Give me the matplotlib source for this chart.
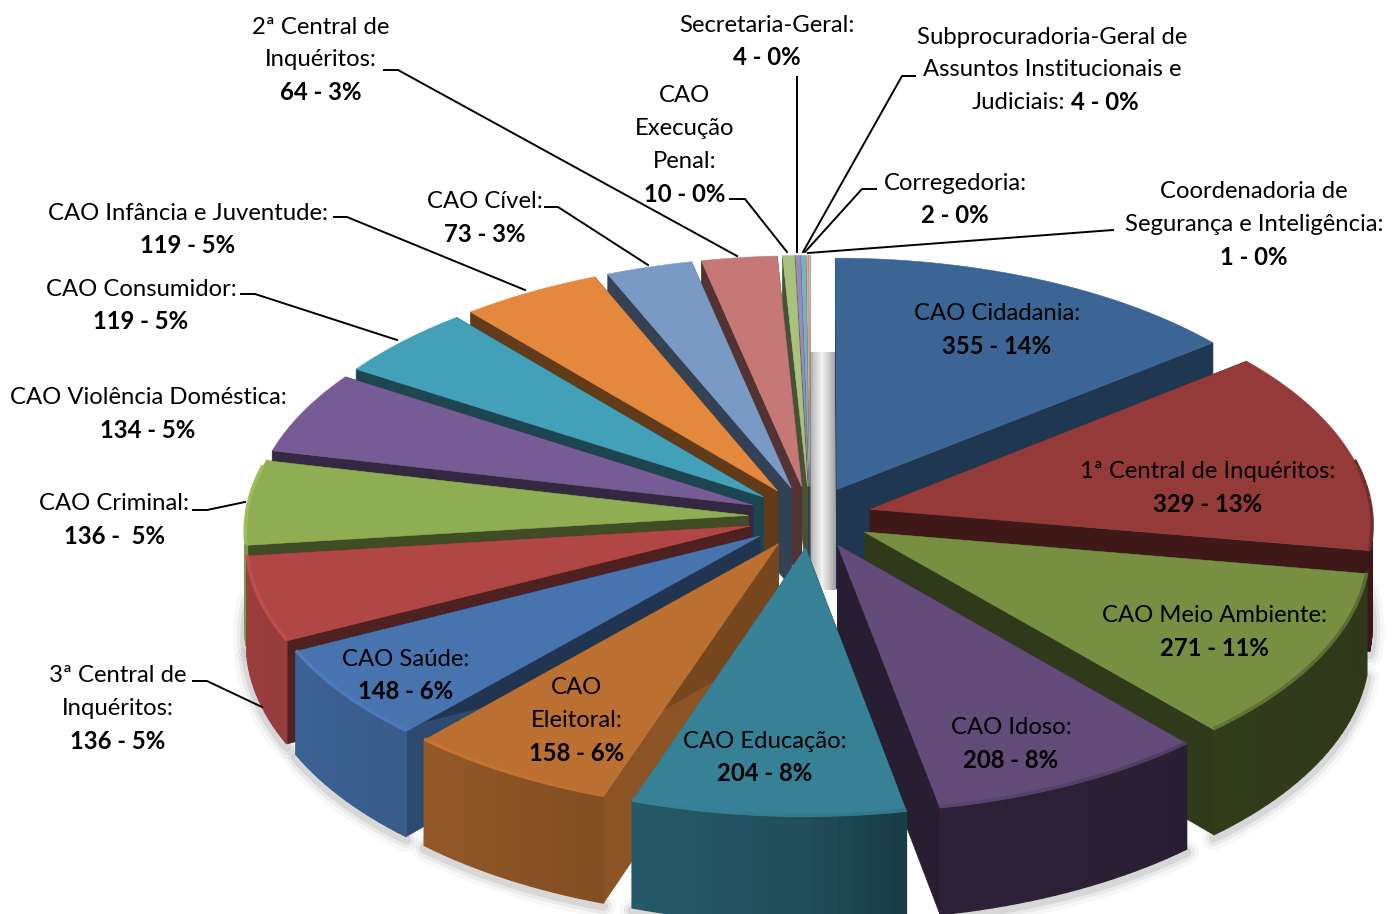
import matplotlib

matplotlib.use("Agg")
import matplotlib.pyplot as plt
import numpy as np

names = [
    "CAO Cidadania:", "1ª Central de Inquéritos:", "CAO Meio Ambiente:", "CAO Idoso:",
    "CAO Educação:", "CAO\nEleitoral:", "CAO Saúde:", "3ª Central de\nInquéritos:",
    "CAO Criminal:", "CAO Violência Doméstica:", "CAO Consumidor:",
    "CAO Infância e Juventude:", "CAO Cível:", "2ª Central de\nInquéritos:",
    "CAO\nExecução\nPenal:", "Secretaria-Geral:",
    "Subprocuradoria-Geral de\nAssuntos Institucionais e", "Corregedoria:",
    "Coordenadoria de\nSegurança e Inteligência:",
]
counts = [355, 329, 271, 208, 204, 158, 148, 136, 136, 134, 119, 119, 73, 64, 10, 4, 4, 2, 1]
percents = [14, 13, 11, 8, 8, 6, 6, 5, 5, 5, 5, 5, 3, 3, 0, 0, 0, 0, 0]
colors = [
    "#3a6594", "#943b3a", "#768f41", "#624a79", "#368196", "#bb7031",
    "#4773ae", "#b04745", "#8fad52", "#775b95", "#43a0b9", "#e3883c",
    "#7a9ac6", "#c57876", "#a9c27e", "#9d8ab8", "#6fb4cc", "#f3a76a", "#b8c7e0",
]

# label anchor: centre x, first line y
label_pos = [
    (997, 314), (1208, 472), (1214, 616), (1011, 728), (765, 741), (577, 688),
    (406, 659), (118, 676), (114, 504), (148, 398), (141, 289), (188, 213),
    (485, 202), (321, 27), (685, 96), (767, 25), (1052, 37), (955, 183), (1254, 192),
]
leaders = [
    [(384, 70), (398, 70), (737, 256)],
    [(797, 77), (797, 252)],
    [(730, 199), (745, 199), (787, 252)],
    [(915, 76), (902, 76), (803, 252)],
    [(876, 189), (862, 189), (805, 252)],
    [(1113, 230), (808, 253)],
    [(545, 207), (558, 207), (648, 265)],
    [(334, 217), (347, 217), (525, 290)],
    [(241, 294), (255, 294), (397, 340)],
    [(193, 510), (207, 510), (245, 502)],
    [(193, 681), (207, 681), (262, 707)],
]

CX, CY = 810, 517
RADIUS, EXPLODE = 502, 62
TILT, PERSP, DEPTH = 0.495, 0.06, 100
LINE_H = 32.7
FONT_SIZE = 17.2


def project(x, y, drop=0.0):
    f = 1 / (1 + PERSP * y / RADIUS)
    return CX + x * f, CY - TILT * y * f + drop * DEPTH * f


def shade(color, factor):
    rgb = np.array(matplotlib.colors.to_rgb(color)) * factor
    return tuple(np.clip(rgb, 0, 1))


def wall_factor(a):
    return np.interp(np.sin(a), [-1, 0, 0.2, 1], [0.88, 0.6, 0.45, 0.4])


def cut_factor(deg):
    return np.interp(deg, [0, 51, 99, 169, 199, 222, 245, 360],
                     [0.5, 0.55, 0.42, 0.4, 0.75, 0.63, 0.45, 0.42])


fig = plt.figure(figsize=(13.98, 9.14), dpi=100)
ax = fig.add_axes([0, 0, 1, 1])

# grey reflection in the gap next to the first slice
gap = np.interp(np.linspace(0, 1, 29), [0, 0.2, 0.5, 0.8, 1], [0.62, 0.78, 0.95, 0.78, 0.62])
ax.imshow(gap[None, :], cmap="gray", vmin=0, vmax=1, aspect="auto",
          extent=(808, 836, 590, 352), zorder=0.5)

ax.set_xlim(0, 1398)
ax.set_ylim(914, 0)
ax.axis("off")

edges = np.cumsum([0] + counts) / sum(counts) * 2 * np.pi
slices = []
for i in range(len(counts)):
    start, end = edges[i], edges[i + 1]
    mid = (start + end) / 2
    ox, oy = EXPLODE * np.sin(mid), EXPLODE * np.cos(mid)
    n = max(2, int(np.degrees(end - start) / 1.5) + 2)
    arc = np.linspace(start, end, n)
    rx = ox + RADIUS * np.sin(arc)
    ry = oy + RADIUS * np.cos(arc)
    slices.append((i, start, end, mid, ox, oy, arc, rx, ry))

# soft shadow under the front walls
for _, _, _, _, _, _, arc, rx, ry in slices:
    front = np.cos(arc) < 0.1
    if front.sum() < 2:
        continue
    sx, sy = project(rx[front], ry[front], 1.0)
    for lw, alpha in [(18, 0.03), (12, 0.05), (7, 0.08)]:
        ax.plot(sx, sy + 3, color="black", lw=lw, alpha=alpha, solid_capstyle="round", zorder=1)

z = 2
for i, start, end, mid, ox, oy, arc, rx, ry in sorted(slices, key=lambda s: -np.cos(s[3])):
    color = colors[i]
    ax_top, ay_top = project(ox, oy)
    ax_bot, ay_bot = project(ox, oy, 1.0)
    tx, ty = project(rx, ry)
    bx, by = project(rx, ry, 1.0)

    # cut faces
    for k, edge in [(0, start), (-1, end)]:
        xt, yt = project(rx[k], ry[k])
        xb, yb = project(rx[k], ry[k], 1.0)
        fc = shade(color, cut_factor(np.degrees(edge)))
        ax.fill([ax_top, xt, xb, ax_bot], [ay_top, yt, yb, ay_bot], color=fc, lw=0.5, zorder=z)
        z += 1

    # outer wall, quad by quad so the shade can drift along the arc; back side is hidden
    for j in range(len(arc) - 1):
        mid_a = (arc[j] + arc[j + 1]) / 2
        if np.cos(mid_a) > 0.02:
            continue
        fc = shade(color, wall_factor(mid_a))
        ax.fill([tx[j], tx[j + 1], bx[j + 1], bx[j]], [ty[j], ty[j + 1], by[j + 1], by[j]],
                color=fc, lw=1.0, zorder=z)
    z += 1

    # top face
    ax.fill(np.r_[ax_top, tx], np.r_[ay_top, ty], color=color, lw=0.4, zorder=z)
    z += 1

    # bevel along the rim
    for j in range(len(arc) - 1):
        mid_a = (arc[j] + arc[j + 1]) / 2
        if np.cos(mid_a) > 0.2:
            continue
        bev = np.interp(np.sin(mid_a), [-1, 0, 1], [1.1, 0.95, 0.75])
        ax.plot(tx[j:j + 2], ty[j:j + 2] - 1, color=shade(color, bev), lw=2.5,
                solid_capstyle="butt", zorder=z)
    z += 1

for pts in leaders:
    xs, ys = zip(*pts)
    ax.plot(xs, ys, color="black", lw=1.4, zorder=z)
z += 1

plt.rcParams["font.family"] = ["Lato", "DejaVu Sans"]
text_kw = dict(ha="center", va="center", fontsize=FONT_SIZE, color="black", zorder=z)
for i, name in enumerate(names):
    x, y = label_pos[i]
    lines = name.split("\n")
    for n, line in enumerate(lines):
        ax.text(x, y + n * LINE_H, line, **text_kw)
    value = f"{counts[i]} - {percents[i]}%"
    if name.startswith("CAO Criminal"):
        value = f"{counts[i]} -  {percents[i]}%"
    if name.startswith("Subprocuradoria"):
        # regular and bold pieces share the last line
        yy = y + len(lines) * LINE_H
        ax.text(1065, yy, "Judiciais:", ha="right", va="center", fontsize=FONT_SIZE, zorder=z)
        ax.text(1071, yy, value, ha="left", va="center", fontsize=FONT_SIZE, fontweight="bold", zorder=z)
    else:
        ax.text(x, y + len(lines) * LINE_H, value, fontweight="bold", **text_kw)

fig.savefig("out.png", dpi=100)
